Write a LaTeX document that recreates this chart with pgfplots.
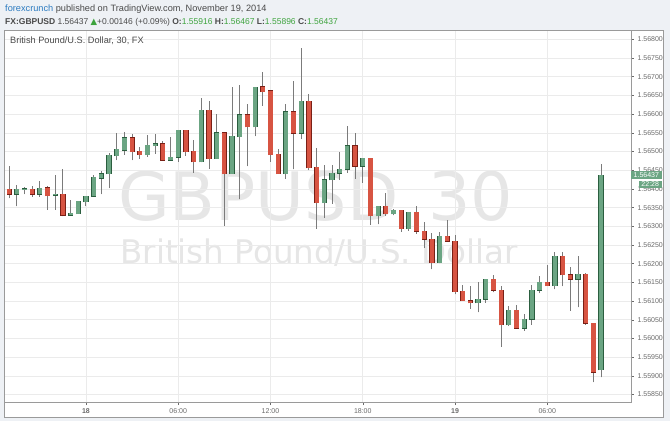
\documentclass[border=0pt]{standalone}
\usepackage{fontspec}
\setmainfont{Liberation Sans}
\newfontfamily\dejavu{DejaVu Sans}
\usepackage{pgfplots}
\usepackage{pgfplotstable}
\pgfplotsset{compat=1.18}
\definecolor{bg}{HTML}{EEF1F5}
\definecolor{framec}{HTML}{9A9A9A}
\definecolor{gridc}{HTML}{EBEBEB}
\definecolor{upfill}{HTML}{6BA583}
\definecolor{upline}{HTML}{2B5E3F}
\definecolor{dnfill}{HTML}{D75442}
\definecolor{dnline}{HTML}{7A2016}
\definecolor{wick}{HTML}{7B7B7B}
\definecolor{wm}{HTML}{E6E6E6}
\definecolor{txt}{HTML}{4A4A4A}
\definecolor{tickc}{HTML}{6A6A6A}
\definecolor{hgreen}{HTML}{3DA33D}
\definecolor{fcblue}{HTML}{2C7BC0}

\pgfplotstableread{
x O H L C
0 1.56399 1.56461 1.56375 1.56386
3 1.56399 1.56408 1.56379 1.56386
5 1.56403 1.56408 1.56344 1.56382
7 1.56386 1.56454 1.56327 1.56329
16 1.56537 1.56547 1.56477 1.56500
17 1.56501 1.56513 1.56481 1.56492
20 1.56521 1.56528 1.56477 1.56477
23 1.56557 1.56558 1.56488 1.56500
24 1.56501 1.56531 1.56443 1.56472
26 1.56610 1.56634 1.56454 1.56481
28 1.56550 1.56550 1.56302 1.56441
31 1.56598 1.56628 1.56461 1.56566
33 1.56673 1.56712 1.56623 1.56660
34 1.56662 1.56662 1.56473 1.56492
35 1.56493 1.56506 1.56441 1.56441
37 1.56607 1.56689 1.56452 1.56549
39 1.56635 1.56653 1.56450 1.56456
40 1.56458 1.56510 1.56294 1.56363
45 1.56515 1.56550 1.56427 1.56460
47 1.56482 1.56482 1.56304 1.56328
49 1.56353 1.56389 1.56328 1.56333
51 1.56343 1.56343 1.56286 1.56294
53 1.56337 1.56355 1.56280 1.56287
54 1.56287 1.56311 1.56242 1.56265
55 1.56265 1.56283 1.56185 1.56203
57 1.56274 1.56316 1.56258 1.56260
58 1.56260 1.56277 1.56118 1.56125
59 1.56126 1.56143 1.56101 1.56101
60 1.56101 1.56139 1.56080 1.56095
63 1.56158 1.56170 1.56123 1.56129
64 1.56129 1.56139 1.55978 1.56036
66 1.56075 1.56089 1.56027 1.56027
70 1.56150 1.56196 1.56141 1.56141
72 1.56220 1.56232 1.56140 1.56170
73 1.56170 1.56191 1.56074 1.56159
75 1.56172 1.56174 1.56036 1.56040
76 1.56040 1.56040 1.55883 1.55910
}\redtab

\pgfplotstableread{
x O H L C
1 1.56386 1.56410 1.56353 1.56399
2 1.56398 1.56405 1.56386 1.56400
4 1.56386 1.56421 1.56379 1.56402
6 1.56383 1.56437 1.56344 1.56386
8 1.56329 1.56369 1.56329 1.56335
9 1.56334 1.56367 1.56334 1.56367
10 1.56366 1.56382 1.56353 1.56381
11 1.56380 1.56437 1.56379 1.56431
12 1.56428 1.56448 1.56386 1.56441
13 1.56440 1.56497 1.56402 1.56490
14 1.56489 1.56550 1.56477 1.56506
15 1.56504 1.56553 1.56492 1.56537
18 1.56492 1.56543 1.56486 1.56517
19 1.56516 1.56548 1.56494 1.56521
21 1.56477 1.56538 1.56477 1.56484
22 1.56484 1.56558 1.56473 1.56557
25 1.56472 1.56644 1.56471 1.56610
27 1.56481 1.56600 1.56481 1.56550
29 1.56441 1.56672 1.56441 1.56541
30 1.56540 1.56678 1.56372 1.56598
32 1.56566 1.56672 1.56541 1.56672
36 1.56441 1.56628 1.56427 1.56607
38 1.56549 1.56777 1.56533 1.56635
41 1.56363 1.56464 1.56323 1.56424
42 1.56424 1.56464 1.56360 1.56442
43 1.56442 1.56500 1.56424 1.56452
44 1.56452 1.56569 1.56443 1.56515
46 1.56460 1.56482 1.56417 1.56482
48 1.56328 1.56353 1.56305 1.56353
50 1.56333 1.56346 1.56329 1.56343
52 1.56294 1.56337 1.56288 1.56337
56 1.56203 1.56284 1.56201 1.56274
61 1.56095 1.56150 1.56070 1.56105
62 1.56105 1.56160 1.56096 1.56158
65 1.56036 1.56087 1.56034 1.56076
67 1.56027 1.56065 1.56021 1.56051
68 1.56051 1.56142 1.56036 1.56129
69 1.56129 1.56168 1.56121 1.56150
71 1.56141 1.56232 1.56131 1.56220
74 1.56159 1.56221 1.56083 1.56172
77 1.55916 1.56467 1.55896 1.56437
}\greentab

\pgfplotsset{candle/.style={only marks, mark=*, mark size=0pt, mark options={draw=none, fill=none},
  error bars/.cd, y dir=plus, y explicit, error mark=none}}

\begin{document}
\begin{tikzpicture}[x=1pt,y=1pt]
\fill[bg] (0,0) rectangle (670,-421);
\fill[white] (4.5,-30) rectangle (663,-417);
% watermark
\node[anchor=base west, inner sep=0, text=wm, font=\dejavu\fontsize{66.7}{70}\selectfont] at (118,-220) {GBPUSD\hspace{0.45em}30};
\node[anchor=base, inner sep=0, text=wm, font=\dejavu\fontsize{32.5}{34}\selectfont] at (319,-263) {British Pound/U.S. Dollar};
\begin{axis}[
  at={(4.5pt,-402pt)}, anchor=south west,
  width=626.5pt, height=372pt, scale only axis,
  xmin=-0.6, xmax=80.89, ymin=1.5583, ymax=1.56825,
  clip mode=individual,
  axis line style={draw=framec, line width=0.6pt},
  grid=major, grid style={draw=gridc, line width=0.6pt},
  xtick={10,22,34,46,58,70},
  xticklabels={\textbf{18},06:00,12:00,18:00,\textbf{19},06:00},
  ytick={1.5585,1.559,1.5595,1.56,1.5605,1.561,1.5615,1.562,1.5625,1.563,1.5635,1.564,1.5645,1.565,1.5655,1.566,1.5665,1.567,1.5675,1.568},
  scaled y ticks=false,
  yticklabel pos=right, ytick pos=right, xtick pos=left,
  tick align=outside, major tick length=3pt,
  tick style={draw=tickc, line width=0.5pt},
  ticklabel style={font=\fontsize{7}{8}\selectfont, text=tickc},
  yticklabel style={/pgf/number format/.cd, fixed, fixed zerofill, precision=5, 1000 sep={}, assume math mode=true},
]
% wicks
\addplot[candle, error bar style={draw=wick, line width=1pt}]
  table[x=x, y=L, y error plus expr=\thisrow{H}-\thisrow{L}] {\redtab};
\addplot[candle, error bar style={draw=wick, line width=1pt}]
  table[x=x, y=L, y error plus expr=\thisrow{H}-\thisrow{L}] {\greentab};
% bodies: borders
\addplot[candle, error bar style={draw=dnline, line width=5.2pt, shorten <=-0.5pt, shorten >=-0.5pt}]
  table[x=x, y=C, y error plus expr=\thisrow{O}-\thisrow{C}] {\redtab};
\addplot[candle, error bar style={draw=upline, line width=5.2pt, shorten <=-0.5pt, shorten >=-0.5pt}]
  table[x=x, y=O, y error plus expr=\thisrow{C}-\thisrow{O}] {\greentab};
% bodies: fills
\addplot[candle, error bar style={draw=dnfill, line width=4.2pt}]
  table[x=x, y=C, y error plus expr=\thisrow{O}-\thisrow{C}] {\redtab};
\addplot[candle, error bar style={draw=upfill, line width=4.2pt}]
  table[x=x, y=O, y error plus expr=\thisrow{C}-\thisrow{O}] {\greentab};
% last price labels
\node[fill=upfill, text=white, font=\fontsize{7}{8}\selectfont, inner xsep=2.5pt, inner ysep=1.3pt, anchor=west] (pl) at (axis cs:80.89,1.56437) {1.56437};
\node[fill=upfill, text=white, font=\fontsize{7}{8}\selectfont, inner xsep=2.5pt, inner ysep=1.3pt, anchor=north east] at ([yshift=-1.5pt]pl.south east) {22:28};
\end{axis}
\draw[framec, line width=0.6pt] (4.5,-30) rectangle (663,-417);
% header
\node[anchor=base west, inner sep=0, font=\fontsize{9.2}{10}\selectfont] at (5,-11) {\textcolor{fcblue}{forexcrunch}\textcolor{txt}{\ published on TradingView.com, November 19, 2014}};
\node[anchor=base west, inner sep=0, font=\fontsize{8.5}{9}\selectfont, text=txt] at (5,-24) {\textbf{FX:GBPUSD} 1.56437 {\dejavu\textcolor{hgreen}{▲}}+0.00146 (+0.09\%) \textbf{O:}\textcolor{hgreen}{1.55916} \textbf{H:}\textcolor{hgreen}{1.56467} \textbf{L:}\textcolor{hgreen}{1.55896} \textbf{C:}\textcolor{hgreen}{1.56437}};
% chart title
\node[anchor=west, inner sep=0, font=\fontsize{9.2}{10}\selectfont, text=txt] at (10,-41) {British Pound/U.S. Dollar, 30, FX};
\pgfresetboundingbox
\useasboundingbox (0,0) rectangle (670,-421);
\end{tikzpicture}
\end{document}
